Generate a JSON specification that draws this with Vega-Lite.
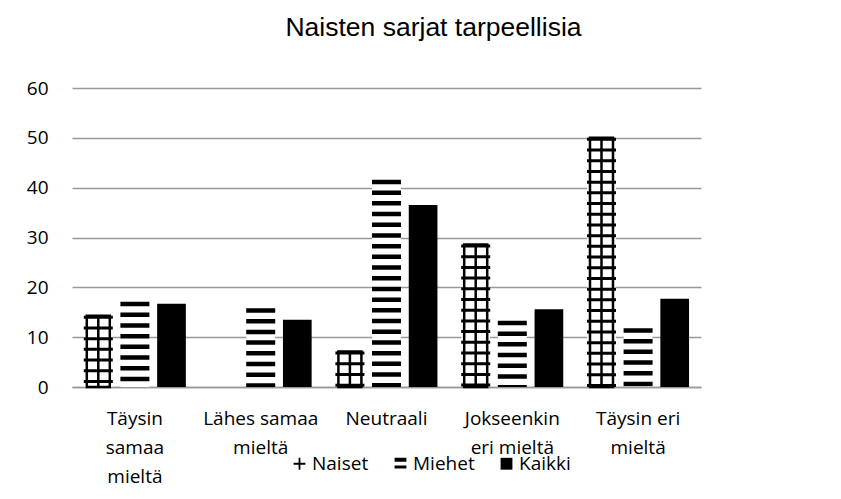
{
  "$schema": "https://vega.github.io/schema/vega-lite/v6.json",
  "width": 629,
  "height": 299,
  "autosize": "none",
  "padding": {"left": 72, "top": 88, "right": 140, "bottom": 112},
  "background": "white",
  "title": {
    "text": "Naisten sarjat tarpeellisia",
    "font": "Liberation Sans",
    "fontSize": 26.5,
    "fontWeight": "normal",
    "color": "black",
    "anchor": "middle",
    "offset": 38,
    "dx": 47
  },
  "config": {"view": {"stroke": null}},
  "data": {
    "values": [
      {"kategoria": "Täysin samaa mieltä", "sarja": "Naiset", "arvo": 14.3},
      {"kategoria": "Täysin samaa mieltä", "sarja": "Miehet", "arvo": 17.1},
      {"kategoria": "Täysin samaa mieltä", "sarja": "Kaikki", "arvo": 16.7},
      {"kategoria": "Lähes samaa mieltä", "sarja": "Naiset", "arvo": 0},
      {"kategoria": "Lähes samaa mieltä", "sarja": "Miehet", "arvo": 15.8},
      {"kategoria": "Lähes samaa mieltä", "sarja": "Kaikki", "arvo": 13.5},
      {"kategoria": "Neutraali", "sarja": "Naiset", "arvo": 7.1},
      {"kategoria": "Neutraali", "sarja": "Miehet", "arvo": 41.6},
      {"kategoria": "Neutraali", "sarja": "Kaikki", "arvo": 36.5},
      {"kategoria": "Jokseenkin eri mieltä", "sarja": "Naiset", "arvo": 28.6},
      {"kategoria": "Jokseenkin eri mieltä", "sarja": "Miehet", "arvo": 13.3},
      {"kategoria": "Jokseenkin eri mieltä", "sarja": "Kaikki", "arvo": 15.6},
      {"kategoria": "Täysin eri mieltä", "sarja": "Naiset", "arvo": 50},
      {"kategoria": "Täysin eri mieltä", "sarja": "Miehet", "arvo": 11.8},
      {"kategoria": "Täysin eri mieltä", "sarja": "Kaikki", "arvo": 17.7}
    ]
  },
  "encoding": {
    "x": {
      "field": "kategoria",
      "type": "nominal",
      "sort": ["Täysin samaa mieltä", "Lähes samaa mieltä", "Neutraali", "Jokseenkin eri mieltä", "Täysin eri mieltä"],
      "scale": {"paddingInner": 0.19, "paddingOuter": 0.095},
      "axis": {
        "title": null,
        "labelAngle": 0,
        "labelFont": "Open Sans",
        "labelFontSize": 19,
        "labelColor": "black",
        "labelLineHeight": 29,
        "labelPadding": 22,
        "labelBaseline": "top",
        "labelLimit": 0,
        "ticks": false,
        "domainColor": "#999999",
        "domainWidth": 1.5,
        "labelExpr": "datum.value == 'Täysin samaa mieltä' ? ['Täysin','samaa','mieltä'] : datum.value == 'Lähes samaa mieltä' ? ['Lähes samaa','mieltä'] : datum.value == 'Jokseenkin eri mieltä' ? ['Jokseenkin','eri mieltä'] : datum.value == 'Täysin eri mieltä' ? ['Täysin eri','mieltä'] : datum.value"
      }
    },
    "xOffset": {
      "field": "sarja",
      "type": "nominal",
      "sort": ["Naiset", "Miehet", "Kaikki"],
      "scale": {"paddingInner": 0.216, "paddingOuter": 0}
    },
    "y": {
      "field": "arvo",
      "type": "quantitative",
      "scale": {"domain": [0, 60]},
      "axis": {
        "title": null,
        "values": [0, 10, 20, 30, 40, 50, 60],
        "labelFont": "Open Sans",
        "labelFontSize": 19,
        "labelColor": "black",
        "labelPadding": 24,
        "ticks": false,
        "domain": false,
        "gridColor": "#999999",
        "gridWidth": 1.5
      }
    }
  },
  "layer": [
    {
      "transform": [{"filter": "datum.sarja !== 'Kaikki'"}],
      "mark": {"type": "bar", "color": "white"}
    },
    {
      "transform": [{"filter": "datum.sarja === 'Kaikki'"}],
      "mark": {"type": "bar"},
      "encoding": {
        "fill": {
          "field": "sarja",
          "type": "nominal",
          "scale": {"domain": ["Naiset", "Miehet", "Kaikki"], "range": ["black", "black", "black"]},
          "legend": {
            "orient": "none",
            "legendX": 218,
            "legendY": 366,
            "direction": "horizontal",
            "title": null,
            "labelFont": "Open Sans",
            "labelFontSize": 19,
            "labelColor": "black",
            "symbolSize": 140,
            "labelOffset": 3,
            "columnPadding": 22,
            "symbolStrokeWidth": 0,
            "encode": {
              "symbols": {
                "update": {
                  "shape": {"signal": "datum.value === 'Naiset' ? 'M-0.15,-1H0.15V-0.15H1V0.15H0.15V1H-0.15V0.15H-1V-0.15H-0.15Z' : datum.value === 'Miehet' ? 'M-1,-1H1V-0.35H-1Z M-1,0.3H1V0.8H-1Z' : 'square'"}
                }
              }
            }
          }
        }
      }
    },
    {
      "transform": [{"filter": "datum.sarja === 'Miehet'"}],
      "mark": {"type": "rule", "color": "black", "strokeWidth": 29, "strokeDash": [4.5, 6.2]},
      "encoding": {"y2": {"datum": 0}}
    },
    {
      "transform": [{"filter": "datum.sarja === 'Naiset'"}],
      "mark": {"type": "rule", "color": "black", "strokeWidth": 29, "strokeDash": [3, 7.7]},
      "encoding": {"y2": {"datum": 0}}
    },
    {
      "transform": [{"filter": "datum.sarja === 'Naiset' && datum.arvo > 0"}],
      "mark": {"type": "bar", "width": 23, "fill": null, "fillOpacity": 0, "stroke": "black", "strokeWidth": 2.5}
    },
    {
      "transform": [{"filter": "datum.sarja === 'Naiset'"}],
      "mark": {"type": "rule", "color": "black", "strokeWidth": 2.5},
      "encoding": {"y2": {"datum": 0}}
    }
  ]
}
